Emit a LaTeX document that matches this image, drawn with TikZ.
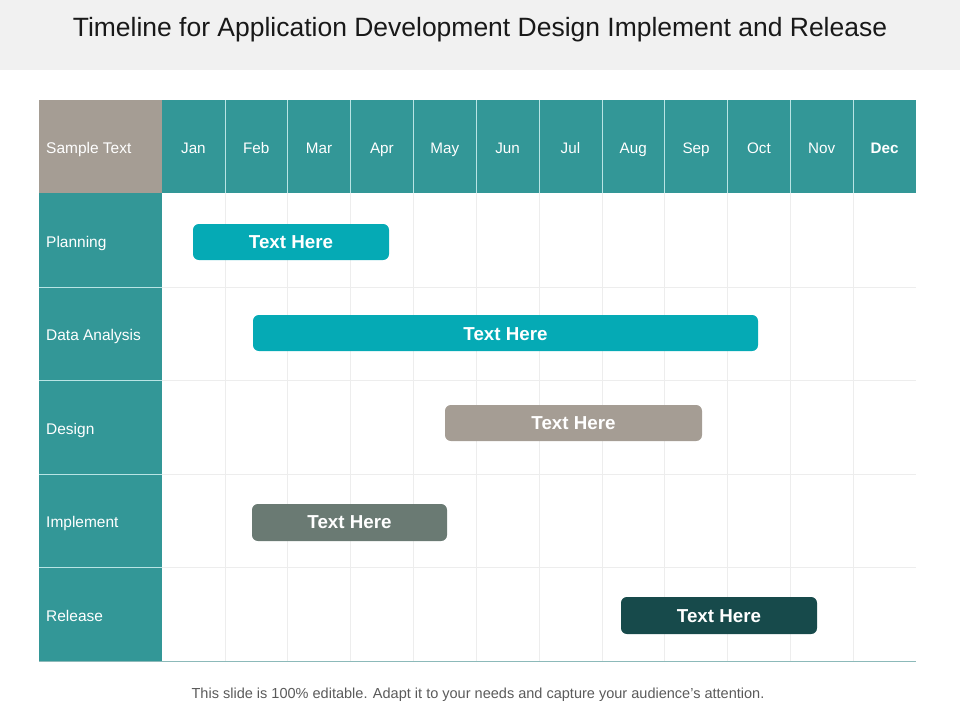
\documentclass[tikz,border=0pt]{standalone}
\usepackage{fontspec}
\setmainfont{Liberation Sans}
\usepackage{tikz}
\usetikzlibrary{positioning}
\definecolor{titlebg}{HTML}{F1F1F1}
\definecolor{headteal}{HTML}{339797}
\definecolor{headgrey}{HTML}{A59D94}
\definecolor{gridgrey}{HTML}{EDEDED}
\definecolor{sepcyan}{HTML}{B9E4E4}
\definecolor{barcyan}{HTML}{05AAB5}
\definecolor{bargrey}{HTML}{A59D94}
\definecolor{barslate}{HTML}{6A7A73}
\definecolor{bardark}{HTML}{174A4B}
\definecolor{footgrey}{HTML}{5A5A5A}
\definecolor{tableline}{HTML}{8CB9B9}
\tikzset{
  monthlbl/.style={anchor=mid, yshift=-2.5pt, text=white, font=\fontsize{13}{15}\selectfont},
  rowlbl/.style={anchor=mid west, yshift=-2.5pt, inner sep=0pt, text=white, font=\fontsize{13.2}{15}\selectfont},
  bartext/.style={anchor=mid, yshift=-2.5pt, text=white, font=\fontsize{16}{18}\selectfont\bfseries},
}

\begin{document}
\begin{tikzpicture}[x=0.03cm,y=-0.03cm]
    \useasboundingbox (0,0) rectangle (960,720);
    % Title band
    \fill[titlebg] (0,0) rectangle (960,70);
    \node[anchor=mid, yshift=-4pt, text=black!90, font=\fontsize{22.6}{26}\selectfont] (title) at (480,29) {Timeline for Application Development Design Implement and Release};
    % Header row and label column
    \fill[headgrey] (39,100) rectangle (162,193);
    \fill[headteal] (162,100) rectangle (916,193);
    \fill[headteal] (39,193) rectangle (162,661);
    % Grid lines
    \foreach \i in {1,...,11} {
        \draw[gridgrey] ({162+\i*62.83},193) -- ({162+\i*62.83},661);
        \draw[sepcyan] ({162+\i*62.83},100) -- ({162+\i*62.83},193);
    }
    \foreach \y in {287,380,474,567} {
        \draw[gridgrey] (162,\y) -- (916,\y);
        \draw[sepcyan] (39,\y) -- (162,\y);
    }
    \draw[tableline, line width=0.8pt] (39,661) -- (916,661);
    % Header labels
    \node[rowlbl] (sample) at (46,147) {Sample Text};
    \foreach \m [count=\i] in {Jan,Feb,Mar,Apr,May,Jun,Jul,Aug,Sep,Oct,Nov} {
        \node[monthlbl] (m\i) at ({162+(\i-0.5)*62.83},147) {\m};
    }
    \node[monthlbl, font=\fontsize{13}{15}\selectfont\bfseries] (m12) at ({162+11.5*62.83},147) {Dec};
    % Row labels
    \node[rowlbl] (planning) at (46,241) {Planning};
    \node[rowlbl] (analysis) at (46,334) {Data Analysis};
    \node[rowlbl] (design) at (46,428) {Design};
    \node[rowlbl] (implement) at (46,521) {Implement};
    \node[rowlbl] (release) at (46,615) {Release};
    % Bars
    \fill[barcyan, rounded corners=5pt] (193,224) rectangle (389,260);
    \node[bartext] (planbar) at (291,242) {Text Here};
    \fill[barcyan, rounded corners=5pt] (253,315) rectangle (758,351);
    \node[bartext] (analysisbar) at (505.5,334) {Text Here};
    \fill[bargrey, rounded corners=5pt] (445,405) rectangle (702,441);
    \node[bartext] (designbar) at (573.5,423) {Text Here};
    \fill[barslate, rounded corners=5pt] (252,504) rectangle (447,541);
    \node[bartext] (implementbar) at (349.5,522) {Text Here};
    \fill[bardark, rounded corners=5pt] (621,597) rectangle (817,634);
    \node[bartext] (releasebar) at (719,616) {Text Here};
    % Footer
    \node[anchor=mid, yshift=-2.5pt, text=footgrey, font=\fontsize{12.4}{14}\selectfont] (footer) at (478,692) {This slide is 100\% editable. Adapt it to your needs and capture your audience's attention.};
\end{tikzpicture}
\end{document}
